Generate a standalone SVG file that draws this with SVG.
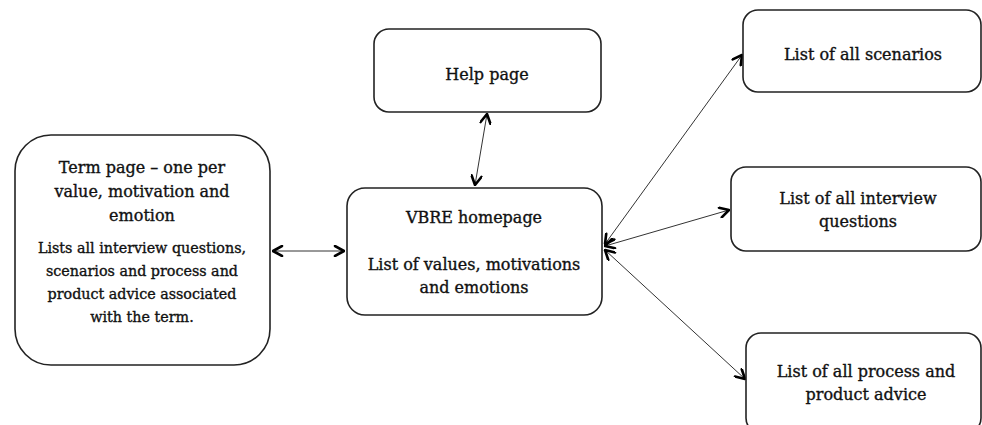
<svg xmlns="http://www.w3.org/2000/svg" width="982" height="425" viewBox="0 0 982 425">
<style>
.box{fill:#fff;stroke:#222;stroke-width:1.6}
.t{font-family:"DejaVu Serif","Liberation Serif",serif;fill:#111;stroke:#111;stroke-width:0.35;text-anchor:middle;font-size:16px}
.s{font-size:14.3px}
.c{stroke:#333;stroke-width:1;fill:none;marker-start:url(#ah);marker-end:url(#ah)}
</style>
<defs>
<marker id="ah" viewBox="0 0 12 12" refX="11" refY="6" markerWidth="12" markerHeight="12" markerUnits="userSpaceOnUse" orient="auto-start-reverse">
<path d="M2,1 L11,6 L2,11" fill="none" stroke="#000" stroke-width="2.6" stroke-linecap="round" stroke-linejoin="round"/>
</marker>
</defs>
<rect width="982" height="425" fill="#fff"/>
<g id="connectors">
<line class="c" x1="273" y1="251" x2="344" y2="251"/>
<line class="c" x1="487" y1="114" x2="475" y2="185"/>
<line class="c" x1="605" y1="244" x2="742" y2="55"/>
<line class="c" x1="605" y1="246" x2="729" y2="210"/>
<line class="c" x1="605" y1="250" x2="745" y2="379"/>
</g>
<g id="term">
<rect class="box" x="15" y="135" width="255" height="230" rx="36"/>
<text class="t" x="142" y="173">Term page – one per</text>
<text class="t" x="142" y="197">value, motivation and</text>
<text class="t" x="142" y="221">emotion</text>
<text class="t s" x="142" y="253">Lists all interview questions,</text>
<text class="t s" x="142" y="276">scenarios and process and</text>
<text class="t s" x="142" y="299">product advice associated</text>
<text class="t s" x="142" y="322">with the term.</text>
</g>
<g id="help">
<rect class="box" x="374" y="29" width="227" height="83" rx="15"/>
<text class="t" x="487" y="80">Help page</text>
</g>
<g id="vbre">
<rect class="box" x="347" y="188" width="255" height="127" rx="18"/>
<text class="t" x="474" y="223">VBRE homepage</text>
<text class="t" x="474" y="270">List of values, motivations</text>
<text class="t" x="474" y="293">and emotions</text>
</g>
<g id="scenarios">
<rect class="box" x="743" y="10" width="238" height="82" rx="15"/>
<text class="t" x="863" y="60">List of all scenarios</text>
</g>
<g id="interview">
<rect class="box" x="731" y="167" width="250" height="84" rx="15"/>
<text class="t" x="858" y="204">List of all interview</text>
<text class="t" x="858" y="227">questions</text>
</g>
<g id="process">
<rect class="box" x="746" y="333" width="235" height="100" rx="15"/>
<text class="t" x="866" y="377">List of all process and</text>
<text class="t" x="866" y="400">product advice</text>
</g>
</svg>
